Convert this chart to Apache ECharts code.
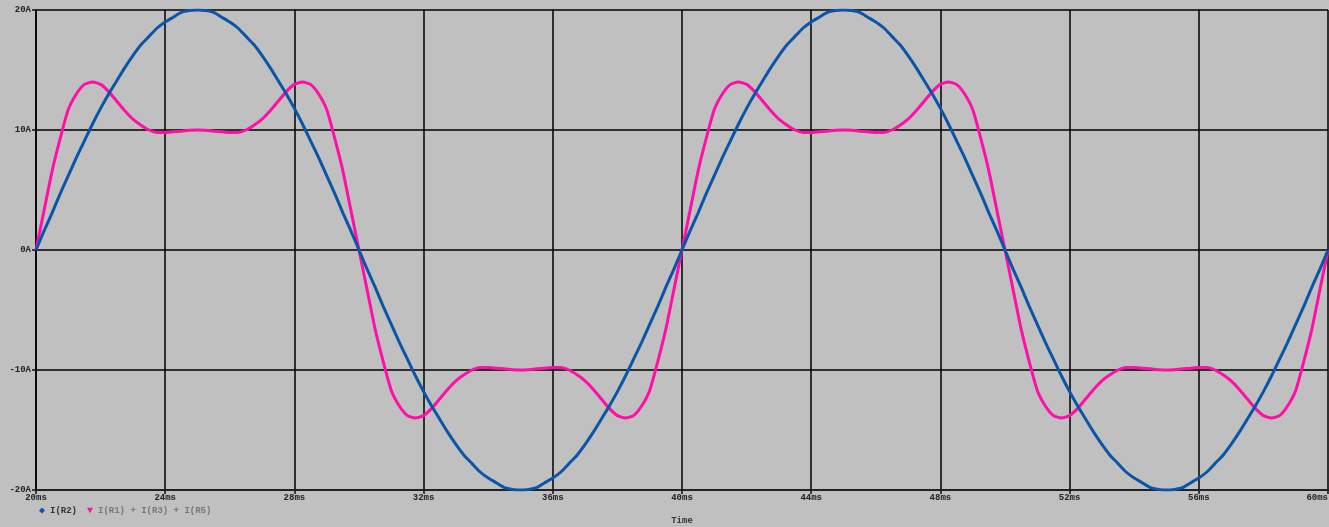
<!DOCTYPE html>
<html>
<head>
<meta charset="utf-8">
<script src="https://cdn.jsdelivr.net/npm/echarts@6/dist/echarts.min.js"></script>
<style>
  html, body { margin: 0; padding: 0; background: #c0c0c0; }
  #chart { width: 1329px; height: 527px; }
</style>
</head>
<body>
<div id="chart"></div>
<script>
// Time (ms), sampled every 0.25 ms
var timeMs = [
  20, 20.25, 20.5, 20.75, 21, 21.25, 21.5, 21.75, 22, 22.25, 22.5, 22.75, 23, 23.25, 23.5, 23.75,
  24, 24.25, 24.5, 24.75, 25, 25.25, 25.5, 25.75, 26, 26.25, 26.5, 26.75, 27, 27.25, 27.5, 27.75,
  28, 28.25, 28.5, 28.75, 29, 29.25, 29.5, 29.75, 30, 30.25, 30.5, 30.75, 31, 31.25, 31.5, 31.75,
  32, 32.25, 32.5, 32.75, 33, 33.25, 33.5, 33.75, 34, 34.25, 34.5, 34.75, 35, 35.25, 35.5, 35.75,
  36, 36.25, 36.5, 36.75, 37, 37.25, 37.5, 37.75, 38, 38.25, 38.5, 38.75, 39, 39.25, 39.5, 39.75,
  40, 40.25, 40.5, 40.75, 41, 41.25, 41.5, 41.75, 42, 42.25, 42.5, 42.75, 43, 43.25, 43.5, 43.75,
  44, 44.25, 44.5, 44.75, 45, 45.25, 45.5, 45.75, 46, 46.25, 46.5, 46.75, 47, 47.25, 47.5, 47.75,
  48, 48.25, 48.5, 48.75, 49, 49.25, 49.5, 49.75, 50, 50.25, 50.5, 50.75, 51, 51.25, 51.5, 51.75,
  52, 52.25, 52.5, 52.75, 53, 53.25, 53.5, 53.75, 54, 54.25, 54.5, 54.75, 55, 55.25, 55.5, 55.75,
  56, 56.25, 56.5, 56.75, 57, 57.25, 57.5, 57.75, 58, 58.25, 58.5, 58.75, 59, 59.25, 59.5, 59.75,
  60
];

// I(R2) in A
var iR2 = [
  0, 1.6, 3.1, 4.7, 6.2, 7.7, 9.1, 10.5, 11.8, 13.0, 14.1, 15.2, 16.2, 17.1, 17.8, 18.5, 19.0, 19.4, 19.8, 19.95, 20.0,
  19.95, 19.8, 19.4, 19.0, 18.5, 17.8, 17.1, 16.2, 15.2, 14.1, 13.0, 11.8, 10.5, 9.1, 7.7, 6.2, 4.7, 3.1, 1.6,
  0, -1.6, -3.1, -4.7, -6.2, -7.7, -9.1, -10.5, -11.8, -13.0, -14.1, -15.2, -16.2, -17.1, -17.8, -18.5, -19.0, -19.4, -19.8, -19.95, -20.0,
  -19.95, -19.8, -19.4, -19.0, -18.5, -17.8, -17.1, -16.2, -15.2, -14.1, -13.0, -11.8, -10.5, -9.1, -7.7, -6.2, -4.7, -3.1, -1.6,
  0, 1.6, 3.1, 4.7, 6.2, 7.7, 9.1, 10.5, 11.8, 13.0, 14.1, 15.2, 16.2, 17.1, 17.8, 18.5, 19.0, 19.4, 19.8, 19.95, 20.0,
  19.95, 19.8, 19.4, 19.0, 18.5, 17.8, 17.1, 16.2, 15.2, 14.1, 13.0, 11.8, 10.5, 9.1, 7.7, 6.2, 4.7, 3.1, 1.6,
  0, -1.6, -3.1, -4.7, -6.2, -7.7, -9.1, -10.5, -11.8, -13.0, -14.1, -15.2, -16.2, -17.1, -17.8, -18.5, -19.0, -19.4, -19.8, -19.95, -20.0,
  -19.95, -19.8, -19.4, -19.0, -18.5, -17.8, -17.1, -16.2, -15.2, -14.1, -13.0, -11.8, -10.5, -9.1, -7.7, -6.2, -4.7, -3.1, -1.6,
  0
];

// I(R1) + I(R3) + I(R5) in A
var iSum = [
  0, 3.3, 6.6, 9.3, 11.7, 13.0, 13.8, 14.0, 13.8, 13.2, 12.4, 11.6, 10.9, 10.4, 10.0, 9.8, 9.8, 9.85, 9.9, 9.97, 10.0,
  9.97, 9.9, 9.85, 9.8, 9.8, 10.0, 10.4, 10.9, 11.6, 12.4, 13.2, 13.8, 14.0, 13.8, 13.0, 11.7, 9.3, 6.6, 3.3,
  0, -3.3, -6.6, -9.3, -11.7, -13.0, -13.8, -14.0, -13.8, -13.2, -12.4, -11.6, -10.9, -10.4, -10.0, -9.8, -9.8, -9.85, -9.9, -9.97, -10.0,
  -9.97, -9.9, -9.85, -9.8, -9.8, -10.0, -10.4, -10.9, -11.6, -12.4, -13.2, -13.8, -14.0, -13.8, -13.0, -11.7, -9.3, -6.6, -3.3,
  0, 3.3, 6.6, 9.3, 11.7, 13.0, 13.8, 14.0, 13.8, 13.2, 12.4, 11.6, 10.9, 10.4, 10.0, 9.8, 9.8, 9.85, 9.9, 9.97, 10.0,
  9.97, 9.9, 9.85, 9.8, 9.8, 10.0, 10.4, 10.9, 11.6, 12.4, 13.2, 13.8, 14.0, 13.8, 13.0, 11.7, 9.3, 6.6, 3.3,
  0, -3.3, -6.6, -9.3, -11.7, -13.0, -13.8, -14.0, -13.8, -13.2, -12.4, -11.6, -10.9, -10.4, -10.0, -9.8, -9.8, -9.85, -9.9, -9.97, -10.0,
  -9.97, -9.9, -9.85, -9.8, -9.8, -10.0, -10.4, -10.9, -11.6, -12.4, -13.2, -13.8, -14.0, -13.8, -13.0, -11.7, -9.3, -6.6, -3.3,
  0
];

var seriesNames = ['I(R2)', 'I(R1) + I(R3) + I(R5)'];
var xTickLabels = { min: 20, max: 60, step: 4, unit: 'ms' };
var yTickLabels = { min: -20, max: 20, step: 10, unit: 'A' };

function pairs(xs, ys) {
  var out = [];
  for (var i = 0; i < xs.length; i++) out.push([xs[i], ys[i]]);
  return out;
}

var FONT = '"Liberation Mono", "DejaVu Sans Mono", monospace';
var chart = echarts.init(document.getElementById('chart'), null, { renderer: 'canvas' });

chart.setOption({
  animation: false,
  backgroundColor: '#c0c0c0',
  grid: { left: 36, right: 1, top: 10, bottom: 37, containLabel: false, outerBoundsMode: 'none' },
  legend: {
    left: 34, top: 501,
    itemWidth: 6, itemHeight: 6, itemGap: 10,
    textStyle: { fontFamily: FONT, fontSize: 9, fontWeight: 'bold', color: '#333' },
    data: [
      { name: seriesNames[0], icon: 'diamond', textStyle: { color: '#333' } },
      { name: seriesNames[1], icon: 'path://M0,0L10,0L5,9Z', textStyle: { color: '#777' } }
    ]
  },
  xAxis: {
    type: 'value',
    min: xTickLabels.min, max: xTickLabels.max, interval: xTickLabels.step,
    name: 'Time', nameLocation: 'middle', nameGap: 26,
    nameTextStyle: { fontFamily: FONT, fontSize: 9, fontWeight: 'bold', color: '#333' },
    axisLine: { show: true, onZero: false, lineStyle: { color: '#222', width: 2 } },
    axisTick: { show: true, inside: false, length: 4, lineStyle: { color: '#111', width: 1.5 } },
    axisLabel: { margin: 3, fontFamily: FONT, fontSize: 9, fontWeight: 'bold', color: '#222',
                 alignMaxLabel: 'right',
                 formatter: function (v) { return v + xTickLabels.unit; } },
    splitLine: { show: true, lineStyle: { color: '#000', width: 1.5 } }
  },
  yAxis: {
    type: 'value',
    min: yTickLabels.min, max: yTickLabels.max, interval: yTickLabels.step,
    axisLine: { show: true, onZero: false, lineStyle: { color: '#000', width: 1.5 } },
    axisTick: { show: true, inside: false, length: 4, lineStyle: { color: '#111', width: 1.5 } },
    axisLabel: { margin: 5, fontFamily: FONT, fontSize: 9, fontWeight: 'bold', color: '#222',
                 formatter: function (v) { return v + yTickLabels.unit; } },
    splitLine: { show: true, lineStyle: { color: '#000', width: 1.5 } }
  },
  series: [
    {
      name: seriesNames[1], type: 'line', data: pairs(timeMs, iSum),
      showSymbol: false, smooth: 0.2, z: 3,
      lineStyle: { color: '#ff0fa8', width: 3 }, itemStyle: { color: '#ff0fa8' }
    },
    {
      name: seriesNames[0], type: 'line', data: pairs(timeMs, iR2),
      showSymbol: false, smooth: 0.2, z: 4,
      lineStyle: { color: '#0a55a8', width: 3 }, itemStyle: { color: '#0a55a8' }
    }
  ]
});
</script>
</body>
</html>
